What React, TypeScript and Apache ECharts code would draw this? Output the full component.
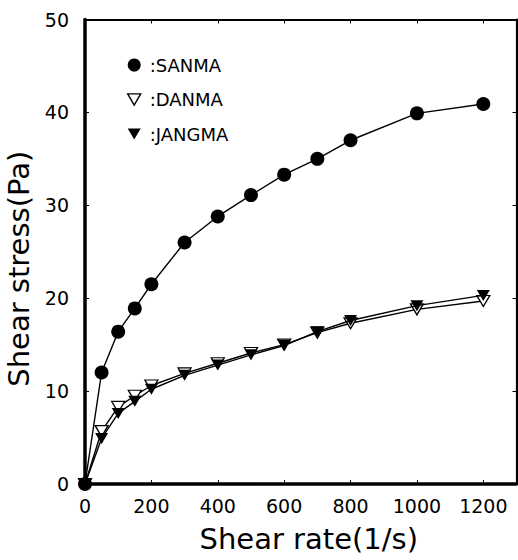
import React, { useEffect, useRef } from "react";
import * as echarts from "echarts";

// Shear rate (1/s)
const shearRate = [0, 50, 100, 150, 200, 300, 400, 500, 600, 700, 800, 1000, 1200];
// Shear stress (Pa) per sample
const sanma = [0, 12.0, 16.4, 18.9, 21.5, 26.0, 28.8, 31.1, 33.3, 35.0, 37.0, 39.9, 40.9];
const danma = [0, 5.7, 8.3, 9.5, 10.6, 11.9, 13.0, 14.1, 15.0, 16.3, 17.3, 18.8, 19.7];
const jangma = [0, 4.9, 7.6, 8.9, 10.2, 11.7, 12.8, 13.9, 14.9, 16.4, 17.6, 19.2, 20.3];
const xTicks = [0, 200, 400, 600, 800, 1000, 1200];

const downTri = "path://M0,0L20,0L10,17.3Z";
const FONT = "DejaVu Sans";

const pairs = (ys: number[]) => shearRate.map((x, i) => [x, ys[i]]);

export default function App() {
  const ref = useRef<HTMLDivElement>(null);
  useEffect(() => {
    if (!ref.current) return;
    const chart = echarts.init(ref.current, undefined, { renderer: "svg" });
    const axisText = { color: "#000", fontFamily: FONT, fontSize: 19 };
    const titleText = { color: "#000", fontFamily: FONT, fontSize: 29 };
    const frameAxis = {
      axisLine: { show: true, onZero: false, lineStyle: { color: "#000", width: 2.2 } },
      axisTick: { show: true, inside: true, length: 4, lineStyle: { color: "#000" } },
      axisLabel: { show: false },
      splitLine: { show: false },
    };
    chart.setOption({
      animation: false,
      backgroundColor: "#fff",
      grid: {
        left: 85,
        right: 1.5,
        top: 19.5,
        bottom: 76,
        containLabel: false,
        outerBoundsMode: "none",
      },
      legend: {
        orient: "vertical",
        left: 127,
        top: 55,
        padding: 0,
        itemWidth: 13,
        itemHeight: 14,
        itemGap: 14.5,
        formatter: (name: string) => ":" + name,
        textStyle: {
          color: "#000",
          fontFamily: FONT,
          fontSize: 18,
          lineHeight: 20,
          padding: [0, 0, 0, 4],
        },
        data: [
          { name: "SANMA", icon: "circle", itemStyle: { color: "#000", borderWidth: 0 } },
          { name: "DANMA", icon: downTri, itemStyle: { color: "#fff", borderColor: "#000", borderWidth: 1.4 } },
          { name: "JANGMA", icon: downTri, itemStyle: { color: "#000", borderWidth: 0 } },
        ],
      },
      xAxis: [
        {
          type: "value",
          min: 0,
          max: 1300,
          interval: 200,
          position: "bottom",
          name: "Shear rate(1/s)",
          nameLocation: "middle",
          nameGap: 40,
          nameTextStyle: { ...titleText, padding: [0, 0, 0, 16] },
          axisLine: { show: true, onZero: false, lineStyle: { color: "#000", width: 3.5 } },
          axisTick: { show: true, inside: true, length: 4, lineStyle: { color: "#000" } },
          axisLabel: {
            ...axisText,
            margin: 12,
            showMaxLabel: false,
            formatter: (v: number) => (xTicks.includes(v) ? String(v) : ""),
          },
          splitLine: { show: false },
        },
        { type: "value", min: 0, max: 1300, interval: 200, position: "top", ...frameAxis },
      ],
      yAxis: [
        {
          type: "value",
          min: 0,
          max: 50,
          interval: 10,
          position: "left",
          name: "Shear stress(Pa)",
          nameLocation: "middle",
          nameGap: 49,
          nameTextStyle: { ...titleText, padding: [0, 34, 0, 0] },
          axisLine: { show: true, onZero: false, lineStyle: { color: "#000", width: 3.5 } },
          axisTick: { show: true, inside: true, length: 4, lineStyle: { color: "#000" } },
          axisLabel: { ...axisText, margin: 16 },
          splitLine: { show: false },
        },
        { type: "value", min: 0, max: 50, interval: 10, position: "right", ...frameAxis },
      ],
      series: [
        {
          name: "SANMA",
          type: "line",
          data: pairs(sanma),
          symbol: "circle",
          symbolSize: 14,
          clip: false,
          lineStyle: { color: "#000", width: 1.4 },
          itemStyle: { color: "#000" },
          z: 3,
        },
        {
          name: "DANMA",
          type: "line",
          data: pairs(danma),
          symbol: downTri,
          symbolSize: [13, 11],
          clip: false,
          lineStyle: { color: "#000", width: 1.4 },
          itemStyle: { color: "#fff", borderColor: "#000", borderWidth: 1.3 },
          z: 2,
        },
        {
          name: "JANGMA",
          type: "line",
          data: pairs(jangma),
          symbol: downTri,
          symbolSize: [13, 11],
          clip: false,
          lineStyle: { color: "#000", width: 1.4 },
          itemStyle: { color: "#000" },
          z: 3,
        },
      ],
    });
    return () => chart.dispose();
  }, []);
  return <div ref={ref} style={{ width: 518, height: 560, position: "absolute", left: 0, top: 0 }} />;
}
